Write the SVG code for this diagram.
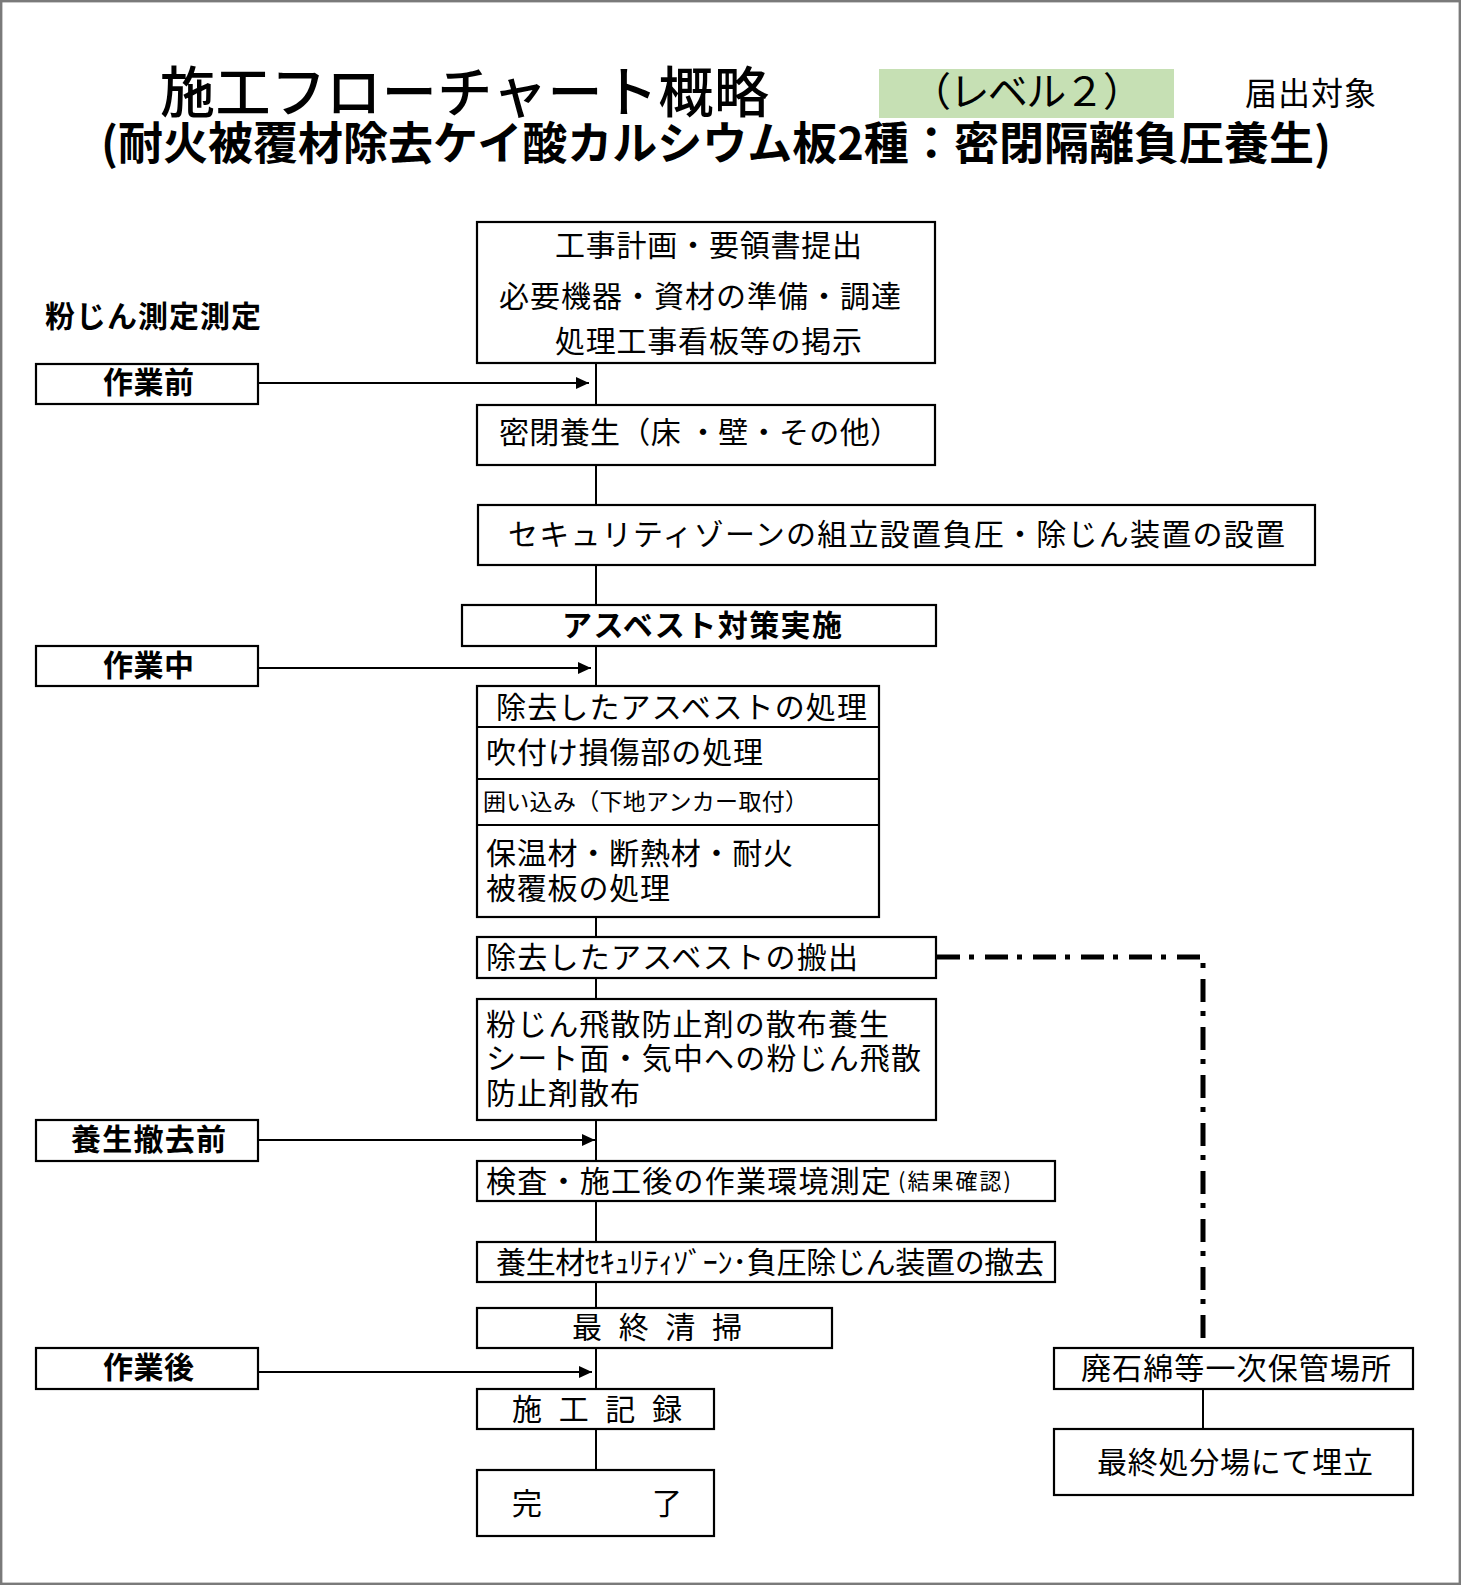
<svg xmlns="http://www.w3.org/2000/svg" width="1462" height="1586" viewBox="0 0 1462 1586">
<style>
text{font-family:"Noto Sans CJK JP","Noto Sans CJK SC",sans-serif;fill:#000;}
.t30{font-size:30px;}
.b{font-weight:bold;}
.m{font-weight:500;}
.box{fill:#fff;stroke:#000;stroke-width:2.2;}
.ln{stroke:#000;stroke-width:2;fill:none;}
.dd{stroke:#000;stroke-width:5;fill:none;stroke-dasharray:23 9 5 11;}
</style>
<defs>
<marker id="ah" markerUnits="userSpaceOnUse" markerWidth="14" markerHeight="14" refX="13" refY="6" orient="auto">
<path d="M0,0 L13,6 L0,12 z" fill="#000"/>
</marker>
</defs>
<rect x="1.2" y="1.2" width="1458.6" height="1582.6" fill="#fff" stroke="#7a7a7a" stroke-width="2.4"/>

<g id="title">
<text x="160" y="112" font-size="55" class="m" textLength="609">施工フローチャート概略</text>
<rect x="879" y="69" width="295" height="49" fill="#c6e0b4"/>
<text x="911" y="106" font-size="40" textLength="232">（レベル２）</text>
<text x="1245" y="105" font-size="32" textLength="131">届出対象</text>
<text x="101" y="160" font-size="45" class="b" textLength="1230">(耐火被覆材除去ケイ酸カルシウム板2種：密閉隔離負圧養生)</text>
</g>

<g id="connectors">
<line class="ln" x1="596" y1="363" x2="596" y2="405"/>
<line class="ln" x1="596" y1="465" x2="596" y2="505"/>
<line class="ln" x1="596" y1="565" x2="596" y2="605"/>
<line class="ln" x1="596" y1="646" x2="596" y2="686"/>
<line class="ln" x1="596" y1="917" x2="596" y2="937"/>
<line class="ln" x1="596" y1="978" x2="596" y2="999"/>
<line class="ln" x1="596" y1="1120" x2="596" y2="1161"/>
<line class="ln" x1="596" y1="1201" x2="596" y2="1242"/>
<line class="ln" x1="596" y1="1282" x2="596" y2="1308"/>
<line class="ln" x1="596" y1="1348" x2="596" y2="1389"/>
<line class="ln" x1="596" y1="1428" x2="596" y2="1470"/>
<line class="ln" x1="1203" y1="1389" x2="1203" y2="1429"/>
<line class="ln" x1="258" y1="383" x2="589" y2="383" marker-end="url(#ah)"/>
<line class="ln" x1="258" y1="668" x2="591" y2="668" marker-end="url(#ah)"/>
<line class="ln" x1="258" y1="1140" x2="595" y2="1140" marker-end="url(#ah)"/>
<line class="ln" x1="258" y1="1372" x2="592" y2="1372" marker-end="url(#ah)"/>
<path class="dd" d="M937,957 H1203 V1348"/>
</g>

<g id="label-dust">
<text x="45" y="327" class="t30 b" textLength="216">粉じん測定測定</text>
</g>
<g id="label-before">
<rect class="box" x="36" y="364" width="222" height="40"/>
<text x="103" y="393" class="t30 b" textLength="91">作業前</text>
</g>
<g id="label-during">
<rect class="box" x="36" y="646" width="222" height="40"/>
<text x="103" y="675.5" class="t30 b" textLength="91">作業中</text>
</g>
<g id="label-beforeremoval">
<rect class="box" x="36" y="1120" width="222" height="41"/>
<text x="71" y="1149.5" class="t30 b" textLength="155">養生撤去前</text>
</g>
<g id="label-after">
<rect class="box" x="36" y="1348" width="222" height="41"/>
<text x="103" y="1377.5" class="t30 b" textLength="91">作業後</text>
</g>

<g id="n-plan">
<rect class="box" x="477" y="222" width="458" height="141"/>
<text x="555" y="255.5" class="t30" textLength="307">工事計画・要領書提出</text>
<text x="499" y="306.5" class="t30" textLength="402">必要機器・資材の準備・調達</text>
<text x="555" y="352" class="t30" textLength="307">処理工事看板等の掲示</text>
</g>
<g id="n-seal">
<rect class="box" x="477" y="405" width="458" height="60"/>
<text x="499" y="442.5" class="t30" textLength="401">密閉養生（床 ・壁・その他）</text>
</g>
<g id="n-zone">
<rect class="box" x="478" y="505" width="837" height="60"/>
<text x="508" y="544.5" class="t30" textLength="777">セキュリティゾーンの組立設置負圧・除じん装置の設置</text>
</g>
<g id="n-measure">
<rect class="box" x="462" y="605" width="474" height="41"/>
<text x="562" y="635.5" class="t30 b" textLength="280">アスベスト対策実施</text>
</g>
<g id="n-process">
<rect class="box" x="477" y="686" width="402" height="231"/>
<line class="ln" x1="477" y1="727" x2="879" y2="727"/>
<line class="ln" x1="477" y1="779" x2="879" y2="779"/>
<line class="ln" x1="477" y1="825" x2="879" y2="825"/>
<text x="496" y="717.5" class="t30" textLength="371">除去したアスベストの処理</text>
<text x="486" y="762.5" class="t30" textLength="277">吹付け損傷部の処理</text>
<text x="483" y="810" font-size="23" textLength="325">囲い込み（下地アンカー取付）</text>
<text x="486" y="863.5" class="t30" textLength="307">保温材・断熱材・耐火</text>
<text x="486" y="898.5" class="t30" textLength="184">被覆板の処理</text>
</g>
<g id="n-carryout">
<rect class="box" x="477" y="937" width="459" height="41"/>
<text x="486" y="967.5" class="t30" textLength="372">除去したアスベストの搬出</text>
</g>
<g id="n-spray">
<rect class="box" x="477" y="999" width="459" height="121"/>
<text x="486" y="1034.5" class="t30" textLength="403">粉じん飛散防止剤の散布養生</text>
<text x="486" y="1068.5" class="t30" textLength="435">シート面・気中への粉じん飛散</text>
<text x="486" y="1103.5" class="t30" textLength="154">防止剤散布</text>
</g>
<g id="n-inspect">
<rect class="box" x="477" y="1161" width="578" height="40"/>
<text x="486" y="1191.5" class="t30" textLength="405">検査・施工後の作業環境測定</text>
<text x="898" y="1189" font-size="22" textLength="113">(結果確認)</text>
</g>
<g id="n-remove">
<rect class="box" x="477" y="1242" width="578" height="40"/>
<text x="496" y="1272.5" class="t30" textLength="548">養生材ｾｷｭﾘﾃｨｿﾞｰﾝ･負圧除じん装置の撤去</text>
</g>
<g id="n-clean">
<rect class="box" x="477" y="1308" width="355" height="40"/>
<text x="572" y="1337.5" class="t30" textLength="170">最 終 清 掃</text>
</g>
<g id="n-record">
<rect class="box" x="477" y="1389" width="237" height="40"/>
<text x="512" y="1419.5" class="t30" textLength="170">施 工 記 録</text>
</g>
<g id="n-done">
<rect class="box" x="477" y="1470" width="237" height="66"/>
<text x="512" y="1513.5" class="t30" textLength="170">完　　　　了</text>
</g>
<g id="n-storage">
<rect class="box" x="1054" y="1348" width="359" height="41"/>
<text x="1081" y="1378.5" class="t30" textLength="310">廃石綿等一次保管場所</text>
</g>
<g id="n-landfill">
<rect class="box" x="1054" y="1429" width="359" height="66"/>
<text x="1097" y="1472.5" class="t30" textLength="276">最終処分場にて埋立</text>
</g>
</svg>
